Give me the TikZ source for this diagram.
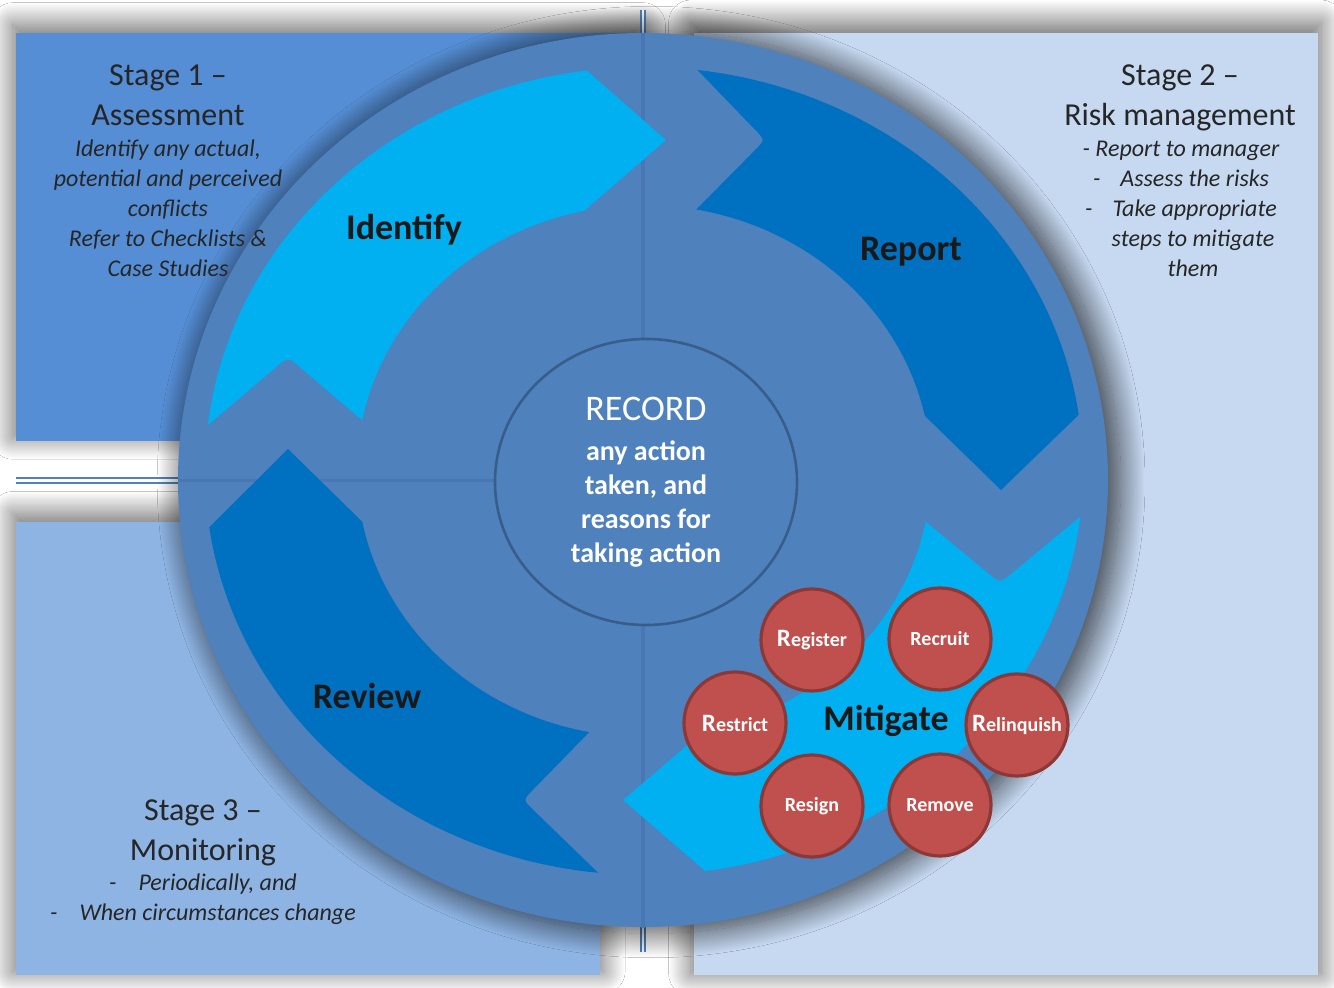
\documentclass[tikz,border=0pt]{standalone}
\usepackage{fontspec}
\setmainfont{Carlito}
\usetikzlibrary{calc,shapes.geometric,shadows.blur}

\definecolor{panelone}{HTML}{558ED5}
\definecolor{paneltwo}{HTML}{C6D9F1}
\definecolor{panelthree}{HTML}{8EB4E3}
\definecolor{ringblue}{HTML}{4F81BD}
\definecolor{ringline}{HTML}{4877B4}
\definecolor{recordedge}{HTML}{385D8A}
\definecolor{arrowcyan}{HTML}{00B0F0}
\definecolor{arrowdark}{HTML}{0070C0}
\definecolor{bubblered}{HTML}{C0504D}
\definecolor{bubbleedge}{HTML}{8C3836}
\definecolor{inkgrey}{HTML}{262626}

\tikzset{
  panelshadow/.style={blur shadow={shadow xshift=0pt, shadow yshift=3pt, shadow scale=1.01, shadow blur radius=11pt, shadow blur steps=40, shadow opacity=60}},
  crossline/.style={draw=ringblue, line width=1pt, double=white, double distance=1.2pt},
  steplabel/.style={text=black!90, font=\bfseries\fontsize{18}{20}\selectfont},
  bubble/.style={circle, draw=bubbleedge, line width=1.6pt, fill=bubblered, minimum size=51pt, inner sep=0pt, text=white, font=\bfseries\fontsize{10}{12}\selectfont},
  stagetitle/.style={align=center, text=inkgrey, font=\fontsize{16}{20}\selectfont},
  stagebody/.style={align=center, text=inkgrey, font=\itshape\fontsize{12}{15}\selectfont}
}

% one curved arrow of the ring: colour, outer arc, tip, inner arc, notch
\newcommand{\ringarrow}[7]{%
  \fill[#1] ($(A)+(#2:439 and 404)$) coordinate (ot)
    arc[start angle=#2, end angle=#3, x radius=439, y radius=404]
    -- #4 -- ($(A)+(#5:287 and 266)$)
    arc[start angle=#5, end angle=#6, x radius=287, y radius=266] coordinate (it)
    -- ($#7!0.14!(it)$) .. controls #7 .. ($#7!0.14!(ot)$) -- cycle;}

\newcommand{\bigR}{{\fontsize{12.5}{12}\selectfont R}}

\begin{document}
\begin{tikzpicture}[x=0.5pt, y=0.5pt]
  \useasboundingbox (0,0) rectangle (1334,-988);
  \fill[white] (0,0) rectangle (1334,-988);

  % stage panels
  \fill[panelone, panelshadow] (16,-33) rectangle (640,-441);
  \fill[panelthree, panelshadow] (16,-522) rectangle (600,-975);
  \fill[paneltwo, panelshadow] (694,-33) rectangle (1318,-975);

  \draw[crossline] (643,-10) -- (643,-952);
  \draw[crossline] (16,-480.5) -- (643,-480.5);

  % ring
  \fill[ringblue, blur shadow={shadow xshift=4pt, shadow yshift=-1pt, shadow scale=1.01, shadow blur radius=12pt, shadow blur steps=40, shadow opacity=70}]
    (643,-480) ellipse [x radius=465, y radius=447];
  \draw[ringline, line width=1.6pt] (643,-33) -- (643,-928);
  \draw[ringline, line width=1.6pt] (178,-480.5) -- (643,-480.5);

  \coordinate (A) at (644,-471);
  \ringarrow{arrowcyan}{173.5}{97.5}{(666,-140)}{102}{169}{(288,-357)}
  \ringarrow{arrowdark}{83}{8}{(1001,-490)}{12}{79.5}{(765,-140)}
  \ringarrow{arrowcyan}{-6.5}{-82}{(623,-800)}{-78}{-11}{(1000,-583)}
  \ringarrow{arrowdark}{264}{188}{(288,-449)}{191}{259}{(523,-800)}

  \node[ellipse, draw=recordedge, line width=1.3pt, fill=ringblue, minimum width=151pt, minimum height=143pt,
        align=center, text=white, font=\bfseries\fontsize{14}{17}\selectfont] (record) at (646,-482)
    {{\mdseries\fontsize{18}{20}\selectfont RECORD}\\[3pt] any action\\ taken, and\\ reasons for\\ taking action};

  \node[steplabel] (identify) at (404,-230) {Identify};
  \node[steplabel] (report) at (911,-252) {Report};
  \node[steplabel] (review) at (367,-696) {Review};
  \node[steplabel] (mitigate) at (886,-721) {Mitigate};

  \node[bubble] (register) at (812,-640) {\bigR egister};
  \node[bubble] (recruit) at (940,-639) {Recruit};
  \node[bubble] (restrict) at (735,-723) {\bigR estrict};
  \node[bubble] (relinquish) at (1017,-725) {\bigR elinquish};
  \node[bubble] (resign) at (812,-806) {Resign};
  \node[bubble] (remove) at (940,-805) {Remove};

  % stage texts
  \node[stagetitle] (s1title) at (168,-95) {Stage 1 –\\ Assessment};
  \node[stagebody] (s1body) at (168,-208) {Identify any actual,\\ potential and perceived\\ conflicts\\ Refer to Checklists \&\\ Case Studies};
  \node[stagetitle] (s2title) at (1180,-98) {Stage 2 –\\ Risk management};
  \node[stagebody] (s2body) at (1181,-209) {- Report to manager\\ -\hspace{10pt}Assess the risks\\ -\hspace{10pt}Take appropriate\\ \hspace{12pt}steps to mitigate\\ \hspace{12pt}them};
  \node[stagetitle] (s3title) at (203,-833) {Stage 3 –\\ Monitoring};
  \node[stagebody] (s3body) at (203,-899) {-\hspace{11pt}Periodically, and\\ -\hspace{11pt}When circumstances change};
\end{tikzpicture}
\end{document}
